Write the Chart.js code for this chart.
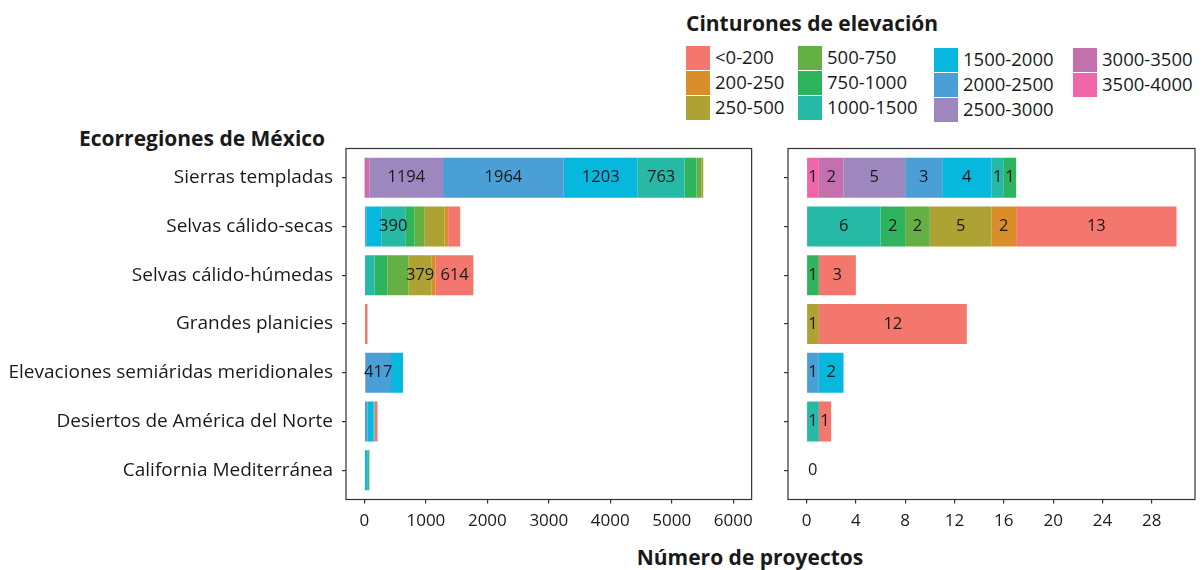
<!DOCTYPE html>
<html lang="es">
<head>
    <meta charset="UTF-8">
    <title>Proyectos por ecorregión y cinturón de elevación</title>
    <script src="https://cdn.jsdelivr.net/npm/chart.js"></script>
    <style>
        body {
            margin: 0;
            width: 1203px;
            height: 570px;
            position: relative;
            overflow: hidden;
            background: #fff;
            font-family: 'Open Sans', sans-serif;
            color: #1a1a1a;
        }
        .panel {
            position: absolute;
            top: 0;
        }
        .titulo {
            position: absolute;
            font-weight: bold;
            font-size: 21px;
            line-height: 1;
            white-space: nowrap;
        }
        .clave {
            position: absolute;
            width: 24px;
            height: 24px;
        }
        .texto-clave {
            position: absolute;
            font-size: 18.5px;
            line-height: 24px;
            white-space: nowrap;
        }
    </style>
</head>
<body>
    <div class="titulo" style="left:79px; top:128px;">Ecorregiones de México</div>
    <div class="titulo" style="left:686px; top:13px;">Cinturones de elevación</div>
    <div class="titulo" style="left:0; width:1500px; top:547px; text-align:center;">Número de proyectos</div>
    <div id="leyenda"></div>

    <canvas class="panel" id="izquierda" width="760" height="570" style="left:0;"></canvas>
    <canvas class="panel" id="derecha" width="433" height="570" style="left:770px;"></canvas>

    <script>
        const regiones = [
            'Sierras templadas',
            'Selvas cálido-secas',
            'Selvas cálido-húmedas',
            'Grandes planicies',
            'Elevaciones semiáridas meridionales',
            'Desiertos de América del Norte',
            'California Mediterránea'
        ];
        const cinturones = ['<0-200', '200-250', '250-500', '500-750', '750-1000', '1000-1500',
                            '1500-2000', '2000-2500', '2500-3000', '3000-3500', '3500-4000'];
        const colores = ['#F4776D', '#D98E2A', '#ADA233', '#64B045', '#2FB45E', '#25B9A6',
                         '#06B8DE', '#4A9FD7', '#9E86BE', '#C470AF', '#EF66A8'];

        const ticksIzq = [0, 1000, 2000, 3000, 4000, 5000, 6000];
        const ticksDer = [0, 4, 8, 12, 16, 20, 24, 28];

        // panel izquierdo, un arreglo por cinturón (orden de regiones)
        const izq_0_200     = [0, 195, 614, 50, 0, 50, 0];
        const izq_200_250   = [0, 60, 65, 0, 0, 0, 0];
        const izq_250_500   = [33, 330, 379, 0, 0, 0, 0];
        const izq_500_750   = [76, 163, 341, 0, 0, 0, 0];
        const izq_750_1000  = [195, 146, 211, 0, 0, 0, 20];
        const izq_1000_1500 = [763, 390, 163, 0, 0, 15, 15];
        const izq_1500_2000 = [1203, 244, 0, 0, 195, 98, 45];
        const izq_2000_2500 = [1964, 30, 0, 0, 417, 50, 0];
        const izq_2500_3000 = [1194, 0, 0, 0, 15, 0, 0];
        const izq_3000_3500 = [80, 0, 0, 0, 0, 0, 0];
        const izq_3500_4000 = [5, 0, 0, 0, 0, 0, 0];

        // panel derecho
        const der_0_200     = [0, 13, 3, 12, 0, 1, 0];
        const der_200_250   = [0, 2, 0, 0, 0, 0, 0];
        const der_250_500   = [0, 5, 0, 1, 0, 0, 0];
        const der_500_750   = [0, 2, 0, 0, 0, 0, 0];
        const der_750_1000  = [1, 2, 1, 0, 0, 0, 0];
        const der_1000_1500 = [1, 6, 0, 0, 0, 1, 0];
        const der_1500_2000 = [4, 0, 0, 0, 2, 0, 0];
        const der_2000_2500 = [3, 0, 0, 0, 1, 0, 0];
        const der_2500_3000 = [5, 0, 0, 0, 0, 0, 0];
        const der_3000_3500 = [2, 0, 0, 0, 0, 0, 0];
        const der_3500_4000 = [1, 0, 0, 0, 0, 0, 0];

        const valoresIzq = [izq_0_200, izq_200_250, izq_250_500, izq_500_750, izq_750_1000, izq_1000_1500,
                            izq_1500_2000, izq_2000_2500, izq_2500_3000, izq_3000_3500, izq_3500_4000];
        const valoresDer = [der_0_200, der_200_250, der_250_500, der_500_750, der_750_1000, der_1000_1500,
                            der_1500_2000, der_2000_2500, der_2500_3000, der_3000_3500, der_3500_4000];

        // leyenda (4 columnas, llenado por columna)
        const colX = [686, 798, 934, 1073];
        const leyenda = document.getElementById('leyenda');
        cinturones.forEach((nombre, i) => {
            const col = Math.floor(i / 3), fila = i % 3;
            const x = colX[col];
            const y = 46 + fila * 25 + (col >= 2 ? 2 : 0);
            const clave = document.createElement('div');
            clave.className = 'clave';
            clave.style.cssText = `left:${x}px; top:${y}px; background:${colores[i]};`;
            const texto = document.createElement('div');
            texto.className = 'texto-clave';
            texto.style.cssText = `left:${x + 29}px; top:${y - 1}px;`;
            texto.textContent = nombre;
            leyenda.appendChild(clave);
            leyenda.appendChild(texto);
        });

        Chart.defaults.font.family = "'Open Sans', sans-serif";
        Chart.defaults.color = '#1a1a1a';

        const marco = {
            id: 'marco',
            afterDraw(chart) {
                const { ctx, chartArea: a } = chart;
                ctx.save();
                ctx.strokeStyle = '#333';
                ctx.lineWidth = 1.2;
                ctx.strokeRect(a.left, a.top, a.right - a.left, a.bottom - a.top);
                ctx.restore();
            }
        };

        const etiquetas = {
            id: 'etiquetas',
            afterDatasetsDraw(chart, args, opts) {
                const ctx = chart.ctx;
                ctx.save();
                ctx.font = "16.5px 'Open Sans'";
                ctx.fillStyle = '#1a1a1a';
                ctx.textAlign = 'center';
                ctx.textBaseline = 'middle';
                chart.data.datasets.forEach((ds, d) => {
                    chart.getDatasetMeta(d).data.forEach((barra, i) => {
                        const v = ds.data[i].x;
                        if (v > 0 && v >= opts.minimo) {
                            ctx.fillText(String(v), (barra.x + barra.base) / 2, barra.y);
                        }
                    });
                });
                if (opts.ceros) {
                    regiones.forEach((r, i) => {
                        const total = chart.data.datasets.reduce((s, ds) => s + ds.data[i].x, 0);
                        if (total === 0) {
                            ctx.fillText('0', chart.scales.x.getPixelForValue(0.5), chart.scales.y.getPixelForValue(i));
                        }
                    });
                }
                ctx.restore();
            }
        };

        function crearPanel(id, valores, limites, ticks, anchoEje, conNombres, optsEtiquetas) {
            // apilar desde 3500-4000 (junto al cero) hasta <0-200
            const datasets = cinturones.map((nombre, k) => ({
                label: nombre,
                data: valores[k].map((v, i) => ({ x: v, y: i })),
                backgroundColor: colores[k],
                borderWidth: 0,
                categoryPercentage: 0.82,
                barPercentage: 1
            })).reverse();

            const rejilla = { drawOnChartArea: false, drawTicks: true, tickLength: 4, color: '#333', lineWidth: 1.2, offset: false };

            return new Chart(document.getElementById(id), {
                type: 'bar',
                data: { datasets },
                options: {
                    indexAxis: 'y',
                    responsive: false,
                    animation: false,
                    layout: { padding: { top: 148.5, right: 8, left: 0, bottom: 0 } },
                    plugins: {
                        legend: { display: false },
                        tooltip: { enabled: false },
                        etiquetas: optsEtiquetas
                    },
                    scales: {
                        x: {
                            type: 'linear',
                            stacked: true,
                            offset: false,
                            bounds: 'data',
                            min: limites[0],
                            max: limites[1],
                            afterBuildTicks: s => { s.ticks = ticks.map(v => ({ value: v })); },
                            afterFit: s => { s.height = 70.5; },
                            ticks: { font: { size: 17 }, padding: 7, maxRotation: 0, callback: v => String(v) },
                            grid: rejilla,
                            border: { display: false }
                        },
                        y: {
                            type: 'linear',
                            stacked: true,
                            offset: false,
                            bounds: 'data',
                            reverse: true,
                            min: -0.6,
                            max: 6.6,
                            afterDataLimits: s => { s.min = -0.6; s.max = 6.6; },
                            afterBuildTicks: s => { s.ticks = regiones.map((r, i) => ({ value: i })); },
                            afterFit: s => { s.width = anchoEje; },
                            ticks: {
                                font: { size: 19 },
                                padding: 9,
                                autoSkip: false,
                                callback: v => conNombres ? regiones[v] : ''
                            },
                            grid: rejilla,
                            border: { display: false }
                        }
                    }
                },
                plugins: [marco, etiquetas]
            });
        }

        crearPanel('izquierda', valoresIzq, [-300, 6300], ticksIzq, 346, true, { minimo: 350, ceros: false });
        crearPanel('derecha', valoresDer, [-1.5, 31.5], ticksDer, 18, false, { minimo: 1, ceros: true });
    </script>
</body>
</html>
